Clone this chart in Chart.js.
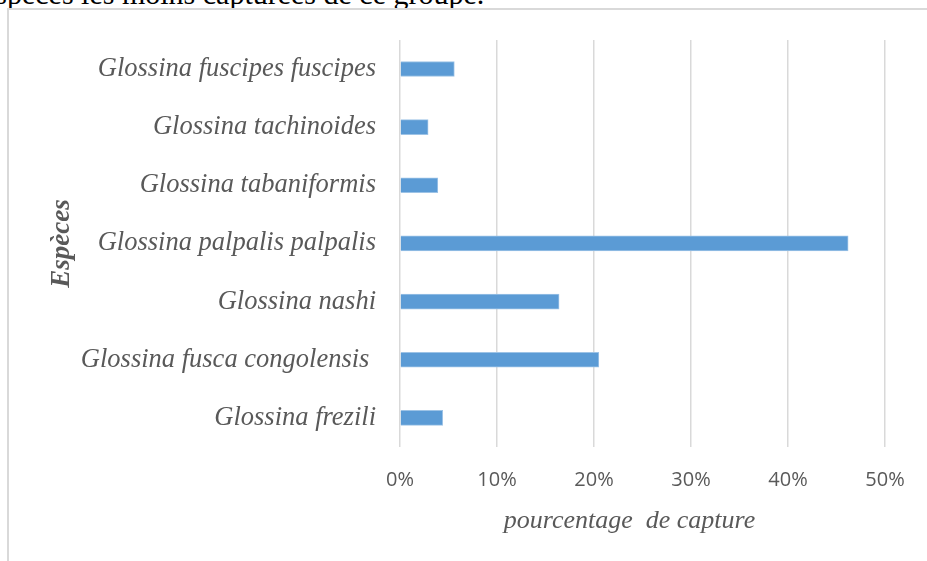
<!DOCTYPE html>
<html>
<head>
<meta charset="utf-8">
<script src="https://cdn.jsdelivr.net/npm/chart.js@4"></script>
<style>
  html, body { margin: 0; padding: 0; background: #fff; overflow: hidden; }
  body { width: 927px; height: 561px; position: relative; }
  #frame { position: absolute; left: 7px; top: 8px; width: 1000px; height: 600px;
           border-left: 2px solid #d9d9d9; border-top: 2px solid #d9d9d9; }
  #above { position: absolute; left: -18px; top: -21px; white-space: nowrap;
           font: 30px/30px "Liberation Serif", serif; color: #000; }
  #wrap { position: absolute; left: 0; top: 0; width: 927px; height: 561px; }
</style>
</head>
<body>
<div id="above">espèces les moins capturées de ce groupe.</div>
<div id="frame"></div>
<div id="wrap"><canvas id="chart" width="927" height="561"></canvas></div>
<script>
var species = [
    'Glossina fuscipes fuscipes',
    'Glossina tachinoides',
    'Glossina tabaniformis',
    'Glossina palpalis palpalis',
    'Glossina nashi',
    'Glossina fusca congolensis ',
    'Glossina frezili'
];
var capture = [5.6, 2.9, 3.9, 46.2, 16.4, 20.5, 4.4];
var xTicks = [0, 10, 20, 30, 40, 50];

var ctx = document.getElementById('chart');
var myChart = new Chart(ctx, {
    type: 'bar',
    data: {
        labels: species,
        datasets: [{
            data: capture,
            backgroundColor: '#5b9bd5',
            borderColor: '#9dc3e6',
            borderWidth: 1,
            barThickness: 15
        }]
    },
    options: {
        indexAxis: 'y',
        responsive: false,
        animation: false,
        layout: { padding: { top: 38, right: 42, left: 0, bottom: 0 } },
        plugins: {
            legend: { display: false },
            tooltip: { enabled: false }
        },
        scales: {
            x: {
                min: xTicks[0],
                max: xTicks[xTicks.length - 1],
                afterBuildTicks: function (scale) {
                    scale.ticks = xTicks.map(function (v) { return { value: v }; });
                },
                afterFit: function (scale) { scale.height = 114; },
                grid: { color: '#d9d9d9', lineWidth: 1.5, drawTicks: false },
                border: { display: false },
                ticks: {
                    padding: 21,
                    color: '#595959',
                    font: { family: 'Open Sans', size: 20 },
                    callback: function (v) { return v + '%'; }
                },
                title: {
                    display: true,
                    // trailing spaces nudge the centred title a bit to the left, as in the original
                    text: 'pourcentage  de capture    ',
                    color: '#595959',
                    font: { family: 'Liberation Serif', size: 26, style: 'italic' },
                    padding: { top: 0, bottom: 24 }
                }
            },
            y: {
                afterFit: function (scale) { scale.width = 400; },
                grid: { display: false, drawTicks: false },
                border: { display: false },
                ticks: {
                    padding: 24,
                    color: '#595959',
                    font: { family: 'Liberation Serif', size: 26.5, style: 'italic' }
                },
                title: {
                    display: true,
                    text: 'Espèces',
                    color: '#595959',
                    font: { family: 'Liberation Serif', size: 27, style: 'italic', weight: 'bold' },
                    padding: { top: 46, bottom: 0 }
                }
            }
        }
    }
});
</script>
</body>
</html>
